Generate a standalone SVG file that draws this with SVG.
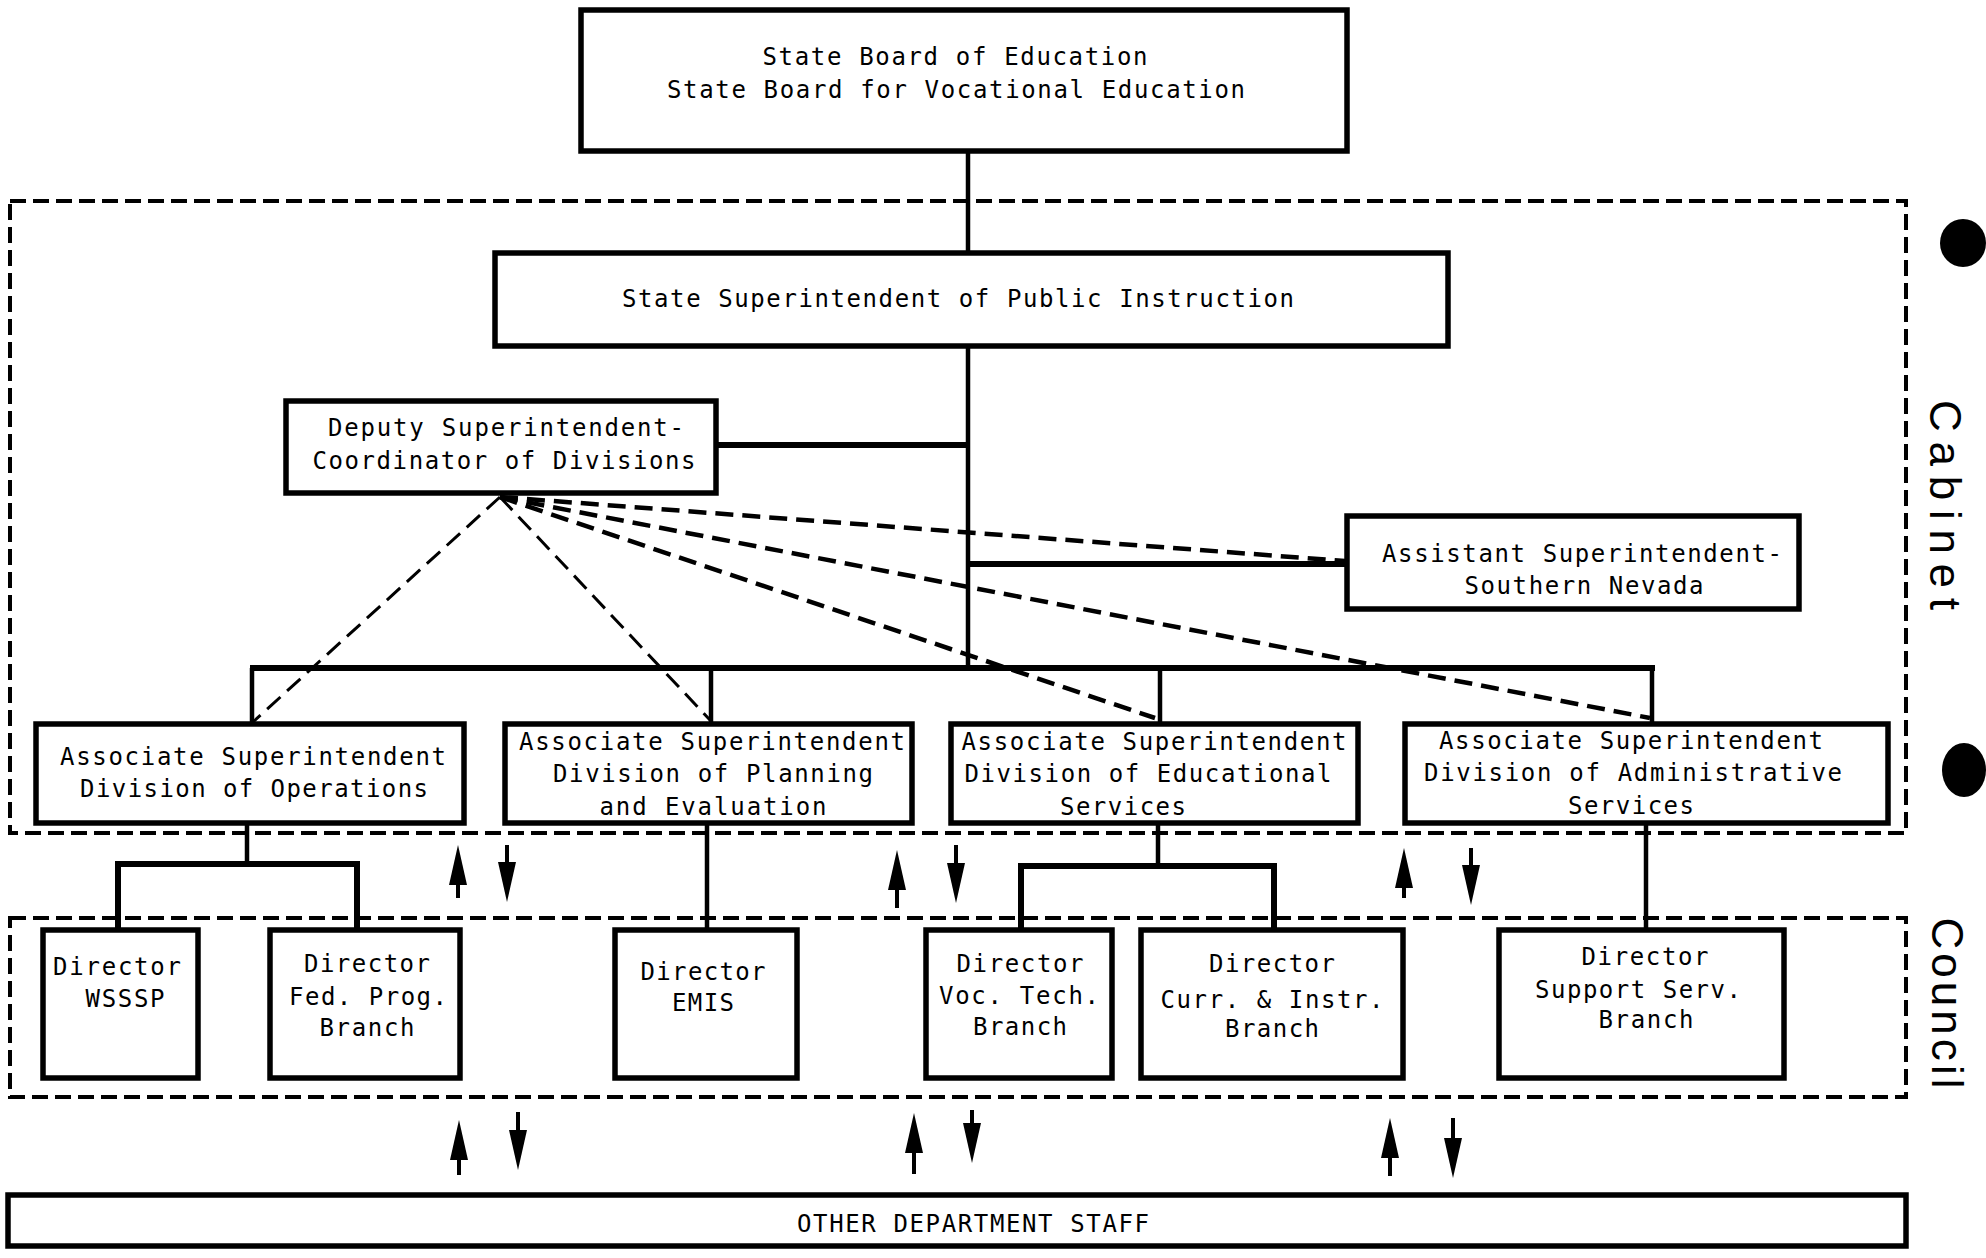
<svg xmlns="http://www.w3.org/2000/svg" width="1986" height="1258" viewBox="0 0 1986 1258">
<style>
.box{fill:#fff;stroke:#000;stroke-width:5.5}
.t{font-family:"DejaVu Sans Mono","Liberation Mono",monospace;font-size:24px;text-anchor:middle;fill:#000}
.lbl{font-family:"Liberation Sans","DejaVu Sans",sans-serif;font-size:44px;text-anchor:middle;fill:#000}
.ln{stroke:#000;stroke-width:4.5;fill:none}
.bar{stroke:#000;stroke-width:6;fill:none}
.grp{stroke:#000;stroke-width:4;fill:none;stroke-dasharray:16 7}
.dl{stroke:#000;stroke-width:3;fill:none;stroke-dasharray:18 9}
.dh{stroke:#000;stroke-width:4.5;fill:none;stroke-dasharray:18 9}
.ar{stroke:#000;stroke-width:4;fill:none;marker-end:url(#ah)}
</style>
<defs>
<marker id="ah" markerUnits="userSpaceOnUse" markerWidth="42" markerHeight="18" refX="19" refY="9" orient="auto">
<path d="M0,0 L40,9 L0,18 z" fill="#000"/>
</marker>
</defs>
<rect width="1986" height="1258" fill="#fff"/>

<g id="groups">
<rect class="grp" x="10" y="201" width="1896" height="632"/>
<rect class="grp" x="10" y="918" width="1896" height="179"/>
<text class="lbl" transform="translate(1930,505) rotate(90)" textLength="210" lengthAdjust="spacing">Cabinet</text>
<text class="lbl" transform="translate(1932,1003) rotate(90)" textLength="171" lengthAdjust="spacing">Council</text>
<ellipse cx="1963" cy="243" rx="23" ry="24" fill="#000"/>
<ellipse cx="1964" cy="770" rx="22" ry="27" fill="#000"/>
</g>

<g id="connectors">
<line class="ln" x1="968" y1="153" x2="968" y2="251"/>
<line class="ln" x1="968" y1="348" x2="968" y2="668"/>
<line class="bar" x1="718" y1="445" x2="968" y2="445"/>
<line class="bar" x1="968" y1="564" x2="1345" y2="564"/>
<line class="bar" x1="250" y1="668" x2="1655" y2="668"/>
<line class="ln" x1="252" y1="668" x2="252" y2="722"/>
<line class="ln" x1="711" y1="668" x2="711" y2="722"/>
<line class="ln" x1="1160" y1="668" x2="1160" y2="722"/>
<line class="ln" x1="1652" y1="668" x2="1652" y2="722"/>
<path class="dl" d="M500,497 L253,722"/>
<path class="dl" d="M500,497 L710,720"/>
<path class="dh" d="M500,497 L1155,718"/>
<path class="dh" d="M500,497 L1650,718"/>
<path class="dh" d="M500,497 L1345,561"/>
<line class="ln" x1="247" y1="825" x2="247" y2="864"/>
<path class="bar" d="M118,928 V864 H357 V928"/>
<line class="ln" x1="707" y1="825" x2="707" y2="928"/>
<line class="ln" x1="1158" y1="825" x2="1158" y2="866"/>
<path class="bar" d="M1021,928 V866 H1274 V928"/>
<line class="ln" x1="1646" y1="825" x2="1646" y2="928"/>
<line class="ar" x1="458" y1="898" x2="458" y2="866"/>
<line class="ar" x1="507" y1="845" x2="507" y2="881"/>
<line class="ar" x1="897" y1="908" x2="897" y2="871"/>
<line class="ar" x1="956" y1="845" x2="956" y2="882"/>
<line class="ar" x1="1404" y1="898" x2="1404" y2="869"/>
<line class="ar" x1="1471" y1="848" x2="1471" y2="884"/>
<line class="ar" x1="459" y1="1175" x2="459" y2="1141"/>
<line class="ar" x1="518" y1="1112" x2="518" y2="1149"/>
<line class="ar" x1="914" y1="1174" x2="914" y2="1134"/>
<line class="ar" x1="972" y1="1110" x2="972" y2="1142"/>
<line class="ar" x1="1390" y1="1176" x2="1390" y2="1139"/>
<line class="ar" x1="1453" y1="1118" x2="1453" y2="1157"/>
</g>

<g id="board">
<rect class="box" x="581" y="10" width="766" height="141"/>
<text class="t" x="955" y="65" textLength="385" lengthAdjust="spacing">State Board of Education</text>
<text class="t" x="956" y="98" textLength="578" lengthAdjust="spacing">State Board for Vocational Education</text>
</g>

<g id="superintendent">
<rect class="box" x="495" y="253" width="953" height="93"/>
<text class="t" x="958" y="307" textLength="672" lengthAdjust="spacing">State Superintendent of Public Instruction</text>
</g>

<g id="deputy">
<rect class="box" x="286" y="401" width="430" height="92"/>
<text class="t" x="506" y="436" textLength="356" lengthAdjust="spacing">Deputy Superintendent-</text>
<text class="t" x="504" y="469" textLength="383" lengthAdjust="spacing">Coordinator of Divisions</text>
</g>

<g id="assistant">
<rect class="box" x="1347" y="516" width="452" height="93"/>
<text class="t" x="1582" y="562" textLength="400" lengthAdjust="spacing">Assistant Superintendent-</text>
<text class="t" x="1584" y="594" textLength="239" lengthAdjust="spacing">Southern Nevada</text>
</g>

<g id="assoc-operations">
<rect class="box" x="36" y="724" width="428" height="99"/>
<text class="t" x="253" y="765" textLength="386" lengthAdjust="spacing">Associate Superintendent</text>
<text class="t" x="254" y="797" textLength="348" lengthAdjust="spacing">Division of Operations</text>
</g>

<g id="assoc-planning">
<rect class="box" x="505" y="724" width="407" height="99"/>
<text class="t" x="712" y="750" textLength="386" lengthAdjust="spacing">Associate Superintendent</text>
<text class="t" x="713" y="782" textLength="320" lengthAdjust="spacing">Division of Planning</text>
<text class="t" x="713" y="815" textLength="227" lengthAdjust="spacing">and Evaluation</text>
</g>

<g id="assoc-educational">
<rect class="box" x="951" y="724" width="407" height="99"/>
<text class="t" x="1154" y="750" textLength="385" lengthAdjust="spacing">Associate Superintendent</text>
<text class="t" x="1148" y="782" textLength="367" lengthAdjust="spacing">Division of Educational</text>
<text class="t" x="1123" y="815" textLength="126" lengthAdjust="spacing">Services</text>
</g>

<g id="assoc-administrative">
<rect class="box" x="1405" y="724" width="483" height="99"/>
<text class="t" x="1631" y="749" textLength="384" lengthAdjust="spacing">Associate Superintendent</text>
<text class="t" x="1633" y="781" textLength="418" lengthAdjust="spacing">Division of Administrative</text>
<text class="t" x="1631" y="814" textLength="126" lengthAdjust="spacing">Services</text>
</g>

<g id="dir-wsssp">
<rect class="box" x="43" y="930" width="155" height="148"/>
<text class="t" x="117" y="975" textLength="128" lengthAdjust="spacing">Director</text>
<text class="t" x="125" y="1007" textLength="79" lengthAdjust="spacing">WSSSP</text>
</g>

<g id="dir-fedprog">
<rect class="box" x="270" y="930" width="190" height="148"/>
<text class="t" x="367" y="972" textLength="126" lengthAdjust="spacing">Director</text>
<text class="t" x="368" y="1005" textLength="158" lengthAdjust="spacing">Fed. Prog.</text>
<text class="t" x="367" y="1036" textLength="95" lengthAdjust="spacing">Branch</text>
</g>

<g id="dir-emis">
<rect class="box" x="615" y="930" width="182" height="148"/>
<text class="t" x="703" y="980" textLength="125" lengthAdjust="spacing">Director</text>
<text class="t" x="703" y="1011" textLength="62" lengthAdjust="spacing">EMIS</text>
</g>

<g id="dir-voctech">
<rect class="box" x="926" y="930" width="186" height="148"/>
<text class="t" x="1020" y="972" textLength="127" lengthAdjust="spacing">Director</text>
<text class="t" x="1019" y="1004" textLength="160" lengthAdjust="spacing">Voc. Tech.</text>
<text class="t" x="1020" y="1035" textLength="94" lengthAdjust="spacing">Branch</text>
</g>

<g id="dir-curr">
<rect class="box" x="1141" y="930" width="262" height="148"/>
<text class="t" x="1272" y="972" textLength="126" lengthAdjust="spacing">Director</text>
<text class="t" x="1272" y="1008" textLength="223" lengthAdjust="spacing">Curr. &amp; Instr.</text>
<text class="t" x="1272" y="1037" textLength="94" lengthAdjust="spacing">Branch</text>
</g>

<g id="dir-support">
<rect class="box" x="1499" y="930" width="285" height="148"/>
<text class="t" x="1645" y="965" textLength="127" lengthAdjust="spacing">Director</text>
<text class="t" x="1638" y="998" textLength="206" lengthAdjust="spacing">Support Serv.</text>
<text class="t" x="1646" y="1028" textLength="95" lengthAdjust="spacing">Branch</text>
</g>

<g id="staff">
<rect class="box" x="8" y="1195" width="1898" height="51"/>
<text class="t" x="973" y="1232" textLength="352" lengthAdjust="spacing">OTHER DEPARTMENT STAFF</text>
</g>
</svg>
